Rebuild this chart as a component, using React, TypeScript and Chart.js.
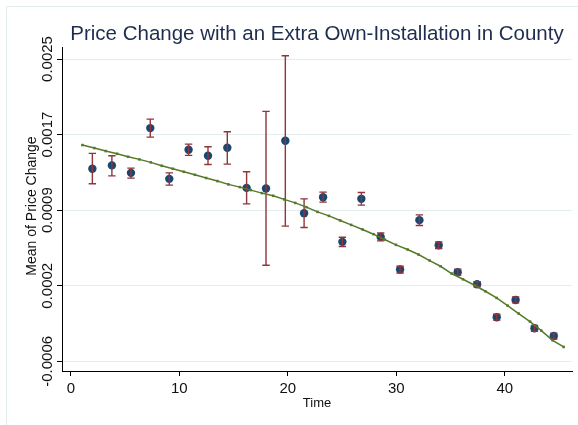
import React, { useEffect, useRef } from "react";
import { Chart, registerables } from "chart.js";

Chart.register(...registerables);

// Binned means of price change with 95% intervals
const times = [1.98, 3.78, 5.54, 7.32, 9.07, 10.85, 12.64, 14.42, 16.2, 17.99, 19.77, 21.5, 23.25, 25.03, 26.78, 28.56, 30.35, 32.13, 33.91, 35.66, 37.45, 39.26, 41.0, 42.74, 44.52];
const meanChange = [0.001367, 0.001402, 0.001325, 0.001787, 0.001263, 0.001563, 0.001501, 0.001584, 0.00117, 0.001164, 0.001656, 0.000909, 0.001074, 0.000613, 0.001057, 0.000664, 0.000327, 0.000837, 0.000578, 0.0003, 0.000176, -0.000165, 0.000013, -0.000279, -0.000359];
const ciLow = [0.001212, 0.001294, 0.001271, 0.001694, 0.001198, 0.001505, 0.001412, 0.001415, 0.001005, 0.000372, 0.000775, 0.000761, 0.001023, 0.000565, 0.000992, 0.000623, 0.000292, 0.000782, 0.000544, 0.00027, 0.00015, -0.000195, -0.000017, -0.000309, -0.000389];
const ciHigh = [0.001526, 0.001501, 0.001374, 0.00188, 0.001325, 0.001622, 0.001594, 0.001749, 0.001336, 0.00196, 0.002534, 0.001057, 0.001126, 0.000661, 0.001123, 0.000705, 0.000361, 0.000891, 0.000613, 0.00033, 0.000202, -0.000135, 0.000043, -0.000249, -0.000329];

// Fitted trend
const fitTime = [1.06, 2.16, 3.21, 4.26, 5.27, 6.31, 7.37, 8.38, 9.4, 10.41, 11.43, 12.47, 13.51, 14.52, 15.58, 16.59, 17.61, 18.65, 19.66, 20.68, 21.72, 22.74, 23.79, 24.83, 25.84, 26.89, 27.9, 28.92, 29.97, 31.04, 32.05, 33.07, 34.08, 35.1, 36.15, 37.22, 38.21, 39.25, 40.26, 41.28, 42.33, 43.37, 44.41, 45.43];
const fitValue = [0.001612, 0.001581, 0.00155, 0.001522, 0.001491, 0.001464, 0.001433, 0.001398, 0.001367, 0.001336, 0.001305, 0.001272, 0.00124, 0.001206, 0.001178, 0.001147, 0.001116, 0.001088, 0.001051, 0.001015, 0.000971, 0.000922, 0.000881, 0.000834, 0.000788, 0.000741, 0.000692, 0.000637, 0.000582, 0.000534, 0.000482, 0.00042, 0.000361, 0.000286, 0.000227, 0.000165, 0.000103, 0.000034, -0.000045, -0.000127, -0.00021, -0.000303, -0.000403, -0.000472];

const xTicks = [0, 10, 20, 30, 40];
const yTickValues = [-0.00062, 0.00016, 0.00094, 0.00172, 0.0025];
const yTickLabels = ["-0.0006", "0.0002", "0.0009", "0.0017", "0.0025"];

const TITLE = "Price Change with an Extra Own-Installation in County";
const Y_TITLE = "Mean of Price Change";
const X_TITLE = "Time";

const FONT = "'Liberation Sans', Arial, Helvetica, sans-serif";

const decorPlugin = {
  id: "decor",
  beforeDraw(chart: any) {
    const ctx = chart.ctx;
    ctx.save();
    ctx.strokeStyle = "#e1ebee";
    ctx.lineWidth = 1;
    ctx.beginPath();
    ctx.moveTo(6.5, chart.height);
    ctx.lineTo(6.5, 6.5);
    ctx.lineTo(chart.width, 6.5);
    ctx.stroke();
    ctx.restore();
  },
  afterDatasetDraw(chart: any, args: any) {
    if (args.index !== 1) return;
    const ctx = chart.ctx;
    const xs = chart.scales.x;
    const ys = chart.scales.y;
    ctx.save();
    ctx.strokeStyle = "#90353b";
    ctx.lineWidth = 1.4;
    const cap = 3.7;
    for (let i = 0; i < times.length; i++) {
      const px = xs.getPixelForValue(times[i]);
      const lo = ys.getPixelForValue(ciLow[i]);
      const hi = ys.getPixelForValue(ciHigh[i]);
      ctx.beginPath();
      ctx.moveTo(px, lo);
      ctx.lineTo(px, hi);
      ctx.moveTo(px - cap, lo);
      ctx.lineTo(px + cap, lo);
      ctx.moveTo(px - cap, hi);
      ctx.lineTo(px + cap, hi);
      ctx.stroke();
    }
    ctx.restore();
  },
  afterDraw(chart: any) {
    const ctx = chart.ctx;
    const ys = chart.scales.y;
    const area = chart.chartArea;
    ctx.save();
    // title
    ctx.fillStyle = "#1e2d4f";
    ctx.font = `20.5px ${FONT}`;
    ctx.textAlign = "center";
    ctx.textBaseline = "alphabetic";
    ctx.fillText(TITLE, (area.left + area.right) / 2, 40);
    // rotated y tick labels
    ctx.fillStyle = "#111";
    ctx.font = `15px ${FONT}`;
    for (let i = 0; i < yTickValues.length; i++) {
      const py = ys.getPixelForValue(yTickValues[i]);
      ctx.save();
      ctx.translate(51.5, py);
      ctx.rotate(-Math.PI / 2);
      ctx.fillText(yTickLabels[i], 0, 0);
      ctx.restore();
    }
    // y axis title
    ctx.font = `14px ${FONT}`;
    ctx.save();
    ctx.translate(35.5, 206);
    ctx.rotate(-Math.PI / 2);
    ctx.fillText(Y_TITLE, 0, 0);
    ctx.restore();
    ctx.restore();
  },
};

export default function App() {
  const canvasRef = useRef<HTMLCanvasElement | null>(null);

  useEffect(() => {
    if (!canvasRef.current) return;
    const chart = new Chart(canvasRef.current, {
      type: "scatter",
      data: {
        datasets: [
          {
            type: "line",
            label: "Fitted values",
            data: fitTime.map((t, i) => ({ x: t, y: fitValue[i] })),
            borderColor: "#56792a",
            backgroundColor: "#56792a",
            borderWidth: 1.5,
            pointStyle: "rect",
            pointRadius: 1.8,
            pointBorderWidth: 0,
            pointBackgroundColor: "#56792a",
            tension: 0,
            fill: false,
          } as any,
          {
            label: "Mean of Price Change",
            data: times.map((t, i) => ({ x: t, y: meanChange[i] })),
            pointRadius: 4.2,
            pointBorderWidth: 0,
            pointBackgroundColor: "#1a476f",
            backgroundColor: "#1a476f",
          },
        ],
      },
      options: {
        responsive: false,
        animation: false,
        devicePixelRatio: 1,
        layout: { padding: { left: 0, right: 6, top: 47, bottom: 0 } },
        plugins: {
          legend: { display: false },
          tooltip: { enabled: false },
          title: { display: false },
        },
        scales: {
          x: {
            type: "linear",
            min: -0.82,
            max: 46.2,
            afterBuildTicks: (s: any) => {
              s.ticks = xTicks.map((v) => ({ value: v }));
            },
            afterFit: (s: any) => {
              s.height = 54;
            },
            grid: {
              drawOnChartArea: false,
              drawTicks: true,
              tickLength: 5,
              tickColor: "#000",
              color: "#000",
            },
            border: { display: true, color: "#000", width: 1 },
            ticks: {
              color: "#111",
              font: { family: FONT, size: 15 },
              padding: 4,
              maxRotation: 0,
              callback: (v: any) => String(v),
            },
            title: {
              display: true,
              text: X_TITLE,
              color: "#111",
              font: { family: FONT, size: 13 },
              padding: { top: 0, bottom: 14 },
            },
          },
          y: {
            type: "linear",
            min: -0.00072,
            max: 0.002624,
            afterBuildTicks: (s: any) => {
              s.ticks = yTickValues.map((v) => ({ value: v }));
            },
            afterFit: (s: any) => {
              s.width = 62;
            },
            grid: {
              color: "#e3edef",
              lineWidth: 1,
              drawTicks: true,
              tickLength: 5,
              tickColor: "#000",
            },
            border: { display: true, color: "#000", width: 1 },
            ticks: { display: false },
          },
        },
      },
      plugins: [decorPlugin],
    });
    return () => chart.destroy();
  }, []);

  return (
    <div style={{ position: "absolute", left: 0, top: 0, width: 578, height: 425, background: "#fff" }}>
      <canvas ref={canvasRef} width={578} height={425} style={{ width: 578, height: 425 }} />
    </div>
  );
}
